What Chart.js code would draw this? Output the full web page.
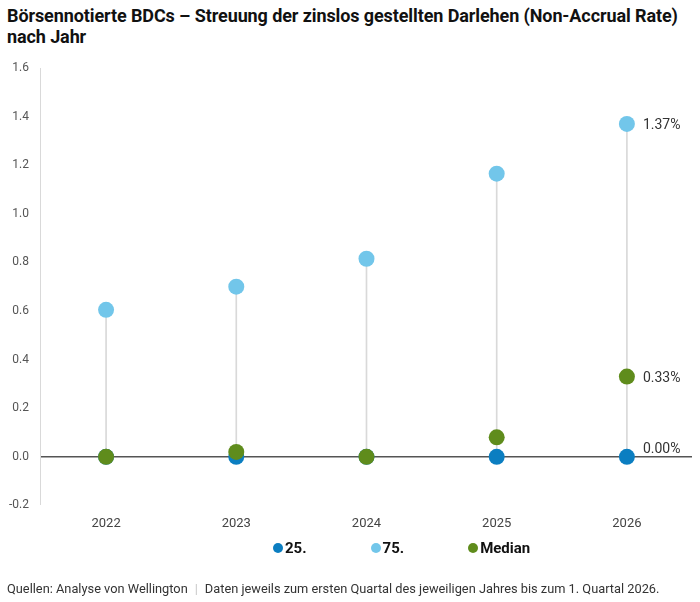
<!DOCTYPE html>
<html lang="de">
<head>
<meta charset="utf-8">
<script src="https://cdn.jsdelivr.net/npm/chart.js@4.4.1/dist/chart.umd.min.js"></script>
<style>
  html, body { margin: 0; padding: 0; background: #fff; }
  body { width: 700px; height: 602px; position: relative; overflow: hidden; font-family: Roboto, "Noto Sans", sans-serif; }
  #title { position: absolute; left: 7px; top: 5px; width: 693px; font-size: 18px; line-height: 21px; font-weight: 700; color: #111; letter-spacing: -0.1px; }
  #wrap { position: absolute; left: 0; top: 0; width: 700px; height: 602px; }
  #legend { position: absolute; top: 539px; left: 273px; display: flex; align-items: center; font-size: 15px; font-weight: 700; color: #111; }
  #legend .item { display: flex; align-items: center; margin-right: 64px; }
  #legend .item:last-child { margin-right: 0; }
  #legend .dot { width: 10px; height: 10px; border-radius: 50%; margin-right: 2px; }
  #footer { position: absolute; left: 7px; top: 581px; font-size: 12.8px; color: #333; white-space: nowrap; }
  #footer .sep { color: #c8c8c8; margin: 0 7px; }
</style>
</head>
<body>
<div id="title">Börsennotierte BDCs – Streuung der zinslos gestellten Darlehen (Non-Accrual Rate)<br>nach Jahr</div>
<div id="wrap"><canvas id="chart"></canvas></div>
<div id="legend"></div>
<div id="footer">Quellen: Analyse von Wellington<span class="sep">|</span>Daten jeweils zum ersten Quartal des jeweiligen Jahres bis zum 1. Quartal 2026.</div>
<script>
// years on the x axis
const years = ["2022", "2023", "2024", "2025", "2026"];

// non-accrual rate in %
const p25 = [0, 0, 0, 0, 0];
const p75 = [0.605, 0.70, 0.815, 1.165, 1.37];
const median = [0, 0.02, 0, 0.08, 0.33];

const yTicks = [-0.2, 0, 0.2, 0.4, 0.6, 0.8, 1.0, 1.2, 1.4, 1.6];

const colors = {
  p25: "#0b7ec1",
  p75: "#72c6ea",
  median: "#5f8c1c",
  stem: "#d9d9d9",
};

// stems go from 0 up to the 75th percentile
const stems = p75.map((v) => [0, v]);

// labels for the last year, right of the points
const endLabels = {
  id: "endLabels",
  afterDatasetsDraw(chart) {
    const ctx = chart.ctx;
    const last = years.length - 1;
    ctx.save();
    ctx.font = "14px Roboto, 'Noto Sans', sans-serif";
    ctx.fillStyle = "#333";
    ctx.textBaseline = "middle";
    ctx.textAlign = "left";
    chart.data.datasets.forEach((ds, i) => {
      if (!ds.endLabel) return;
      const pt = chart.getDatasetMeta(i).data[last];
      const v = ds.data[last];
      const dy = v === 0 ? -7 : 2;
      ctx.fillText(v.toFixed(2) + "%", pt.x + 16, pt.y + dy);
    });
    ctx.restore();
  },
};

const chart = new Chart(document.getElementById("chart").getContext("2d"), {
  data: {
    labels: years,
    datasets: [
      {
        type: "line",
        label: "25.",
        data: p25,
        showLine: false,
        pointRadius: 8,
        pointHoverRadius: 8,
        pointBackgroundColor: colors.p25,
        pointBorderWidth: 0,
        backgroundColor: colors.p25,
        endLabel: true,
        order: 1,
      },
      {
        type: "line",
        label: "75.",
        data: p75,
        showLine: false,
        pointRadius: 8,
        pointHoverRadius: 8,
        pointBackgroundColor: colors.p75,
        pointBorderWidth: 0,
        backgroundColor: colors.p75,
        endLabel: true,
        order: 2,
      },
      {
        type: "line",
        label: "Median",
        data: median,
        showLine: false,
        pointRadius: 8,
        pointHoverRadius: 8,
        pointBackgroundColor: colors.median,
        pointBorderWidth: 0,
        backgroundColor: colors.median,
        endLabel: true,
        order: 0,
      },
      {
        type: "bar",
        label: "stem",
        data: stems,
        backgroundColor: colors.stem,
        barThickness: 1,
        order: 3,
      },
    ],
  },
  options: {
    responsive: true,
    maintainAspectRatio: false,
    animation: false,
    layout: { padding: { top: 68, left: 2, right: 7, bottom: 67 } },
    plugins: {
      legend: { display: false },
      tooltip: { enabled: false },
    },
    scales: {
      x: {
        offset: true,
        grid: { display: false },
        border: { display: false },
        ticks: {
          padding: 3,
          color: "#444",
          font: { family: "Roboto", size: 13 },
        },
      },
      y: {
        min: -0.2,
        max: 1.6,
        afterBuildTicks: (axis) => {
          axis.ticks = yTicks.map((v) => ({ value: v }));
        },
        border: { display: true, color: "#d9d9d9", width: 1 },
        grid: {
          color: (c) => (c.tick && c.tick.value === 0 ? "#555" : "transparent"),
          lineWidth: (c) => (c.tick && c.tick.value === 0 ? 1.5 : 0),
          tickColor: (c) => (c.tick && c.tick.value === 0 ? "transparent" : "#d9d9d9"),
          tickLength: 5,
        },
        ticks: {
          padding: 7,
          color: "#555",
          font: { family: "Roboto", size: 12 },
          callback: (v) => Number(v).toFixed(1),
        },
      },
    },
  },
  plugins: [endLabels],
});

// html legend built from the point datasets
const legend = document.getElementById("legend");
chart.data.datasets
  .filter((ds) => ds.type === "line")
  .forEach((ds) => {
    const item = document.createElement("div");
    item.className = "item";
    const dot = document.createElement("span");
    dot.className = "dot";
    dot.style.background = ds.pointBackgroundColor;
    const text = document.createElement("span");
    text.textContent = ds.label;
    item.appendChild(dot);
    item.appendChild(text);
    legend.appendChild(item);
  });
</script>
</body>
</html>
